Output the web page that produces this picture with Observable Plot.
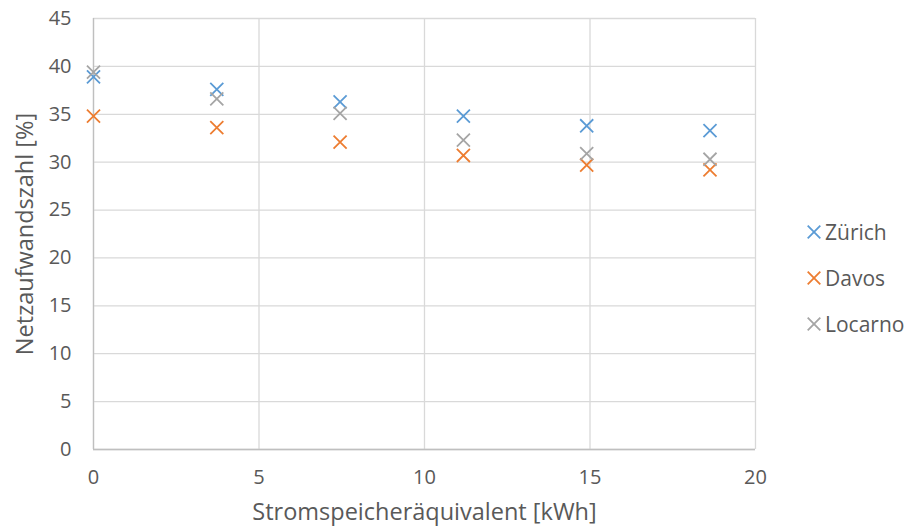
<!DOCTYPE html>
<html>
<head>
<meta charset="utf-8">
<script src="https://cdn.jsdelivr.net/npm/d3@7"></script>
<script src="https://cdn.jsdelivr.net/npm/@observablehq/plot@0.6"></script>
<style>
  body { margin: 0; background: #fff; }
  #wrap { position: relative; width: 907px; height: 529px; font-family: "Open Sans", Lato, sans-serif; color: #595959; }
  #legend { position: absolute; left: 806px; top: 209px; font-size: 21px; }
  #legend div { display: flex; align-items: center; height: 46px; }
  #legend svg { margin-right: 3px; }
</style>
</head>
<body>
<div id="wrap"></div>
<script>
const storage = [0, 3.725, 7.45, 11.175, 14.9, 18.625];
const series = ["Zürich", "Davos", "Locarno"];
const colors = ["#5B9BD5", "#ED7D31", "#A5A5A5"];
const zuerich = [38.9, 37.6, 36.3, 34.8, 33.8, 33.3];
const davos = [34.8, 33.6, 32.1, 30.7, 29.7, 29.2];
const locarno = [39.4, 36.6, 35.1, 32.3, 30.9, 30.3];
const xTicks = [0, 5, 10, 15, 20];
const yTicks = [0, 5, 10, 15, 20, 25, 30, 35, 40, 45];

const valuesBySeries = [zuerich, davos, locarno];
const data = [];
series.forEach((s, i) => storage.forEach((x, j) => data.push({series: s, x, y: valuesBySeries[i][j]})));

const chart = Plot.plot({
  width: 907,
  height: 529,
  marginLeft: 93,
  marginRight: 152,
  marginTop: 18,
  marginBottom: 80,
  style: { fontFamily: "'Open Sans', Lato, sans-serif", fontSize: "20px", color: "#595959", background: "#fff" },
  x: { domain: [0, 20], ticks: xTicks, label: null },
  y: { domain: [0, 45], ticks: yTicks, label: null },
  color: { domain: series, range: colors },
  marks: [
    Plot.gridX(xTicks, { stroke: "#D9D9D9", strokeOpacity: 1, strokeWidth: 1.3 }),
    Plot.gridY(yTicks, { stroke: "#D9D9D9", strokeOpacity: 1, strokeWidth: 1.3 }),
    Plot.ruleY([0], { stroke: "#BFBFBF", strokeWidth: 1.3 }),
    Plot.ruleX([0], { stroke: "#BFBFBF", strokeWidth: 1.3 }),
    Plot.axisX(xTicks, { tickSize: 0, tickPadding: 20, fontSize: 20, fill: "#595959" }),
    Plot.axisY(yTicks, { tickSize: 0, tickPadding: 22, fontSize: 20, fill: "#595959" }),
    Plot.text(["Stromspeicheräquivalent [kWh]"], { frameAnchor: "bottom", dy: 70, fontSize: 23.5, fill: "#595959" }),
    Plot.text(["Netzaufwandszahl [%]"], { frameAnchor: "left", dx: -68, rotate: -90, textAnchor: "middle", fontSize: 23.5, fill: "#595959" }),
    Plot.dot(data, { x: "x", y: "y", stroke: "series", symbol: "times", r: 6, strokeWidth: 1.8 })
  ]
});

const wrap = document.getElementById("wrap");
wrap.appendChild(chart);

const legend = document.createElement("div");
legend.id = "legend";
series.forEach((s, i) => {
  const row = document.createElement("div");
  row.innerHTML = `<svg width="16" height="16" viewBox="-8 -8 16 16"><path d="M-6.3,-6.3L6.3,6.3M6.3,-6.3L-6.3,6.3" stroke="${colors[i]}" stroke-width="1.8"/></svg><span>${s}</span>`;
  legend.appendChild(row);
});
wrap.appendChild(legend);
</script>
</body>
</html>
